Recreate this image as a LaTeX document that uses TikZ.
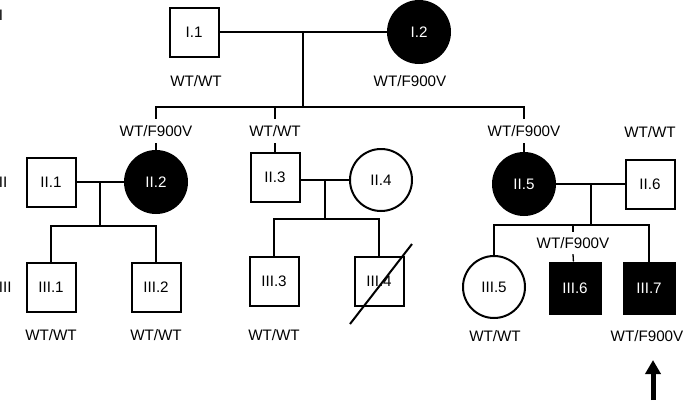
\documentclass[tikz,border=0pt]{standalone}
\usepackage{fontspec}
\setmainfont{Liberation Sans}
\usetikzlibrary{arrows.meta}

\tikzset{
  male/.style={draw, line width=2pt, minimum size=49pt, inner sep=0pt},
  female/.style={draw, circle, line width=2pt, minimum size=62pt, inner sep=0pt},
  affected/.style={fill=black, text=white},
  geno/.style={inner sep=0pt, minimum height=24pt},
  genlabel/.style={anchor=west, inner sep=0pt},
  link/.style={line width=1.3pt},
}

\begin{document}
\begin{tikzpicture}[x=1pt, y=-1pt, font=\fontsize{15.2}{18}\selectfont]
        \useasboundingbox (0,0) rectangle (685,400);

        % Generation labels
        \node[genlabel] (genI) at (-1.3,15) {I};
        \node[genlabel] (genII) at (-1.3,182) {II};
        \node[genlabel] (genIII) at (-1.3,287) {III};

        % Generation I
        \node[male] (I1) at (194,32) {I.1};
        \node[female,affected] (I2) at (419,32) {I.2};
        \node (gI1) at (196,81) {WT/WT};
        \node (gI2) at (410,81) {WT/F900V};
        \coordinate (mI) at (303,32);
        \coordinate (sibII) at (303,107);
        \draw[link] (I1) -- (I2);
        \draw[link] (mI) -- (sibII);

        % Generation II
        \node[male] (II1) at (51,182) {II.1};
        \node[female,affected] (II2) at (156,182) {II.2};
        \node[male] (II3) at (275,177) {II.3};
        \node[female] (II4) at (381,180) {II.4};
        \node[female,affected] (II5) at (524,184) {II.5};
        \node[male] (II6) at (650,184) {II.6};
        \node[geno] (gII2) at (156,131) {WT/F900V};
        \node[geno] (gII3) at (275,131) {WT/WT};
        \node[geno] (gII5) at (524,131) {WT/F900V};
        \node (gII6) at (650,132) {WT/WT};

        % Sibship of generation II
        \draw[link] (gII2.north) |- (sibII) -| (gII5.north);
        \draw[link] (gII3.north) -- (gII3.north |- sibII);
        \draw[link] (gII2.south) -- (II2);
        \draw[link] (gII3.south) -- (II3);
        \draw[link] (gII5.south) -- (II5);

        % Couples of generation II
        \coordinate (mII1) at (100,182);
        \coordinate (mII3) at (325,180);
        \coordinate (mII5) at (591,184);
        \draw[link] (II1) -- (II2);
        \draw[link] (II3.east |- mII3) -- (II4);
        \draw[link] (II5) -- (II6);

        % Generation III
        \coordinate (sibIII1) at (100,226);
        \coordinate (sibIII3) at (325,219);
        \coordinate (sibIII5) at (591,225);
        \node[male] (III1) at (51,287) {III.1};
        \node[male] (III2) at (156,287) {III.2};
        \node[male] (III3) at (274,281) {III.3};
        \node[male] (III4) at (379,281) {III.4};
        \node[female] (III5) at (494,287) {III.5};
        \node[male,affected,minimum size=51pt] (III6) at (575,288) {III.6};
        \node[male,affected,minimum size=51pt] (III7) at (649,288) {III.7};
        \node[geno,minimum height=22pt] (gIII6) at (573,243) {WT/F900V};

        \draw[link] (mII1) -- (sibIII1);
        \draw[link] (mII3) -- (sibIII3);
        \draw[link] (mII5) -- (sibIII5);
        \draw[link] (III1) |- (sibIII1) -| (III2);
        \draw[link] (III3) |- (sibIII3) -| (III4);
        \draw[link] (III5) |- (sibIII5) -| (III7);
        \draw[link] (gIII6.north) -- (gIII6.north |- sibIII5);
        \draw[link] (gIII6.south) -- (III6);

        % Deceased
        \coordinate (deadA) at (350,324);
        \coordinate (deadB) at (412,244);
        \draw[line width=2pt] (deadA) -- (deadB);

        % Genotypes of generation III
        \node (gIII1) at (51,335) {WT/WT};
        \node (gIII2) at (156,335) {WT/WT};
        \node (gIII3) at (274,335) {WT/WT};
        \node (gIII5) at (495,336) {WT/WT};
        \node (gIII7) at (647,336) {WT/F900V};

        % Proband
        \coordinate (probBase) at (653,400);
        \coordinate (probTip) at (653,360);
        \draw[line width=5pt,-{Triangle[width=15pt,length=14pt]}] (probBase) -- (probTip);
\end{tikzpicture}
\end{document}
